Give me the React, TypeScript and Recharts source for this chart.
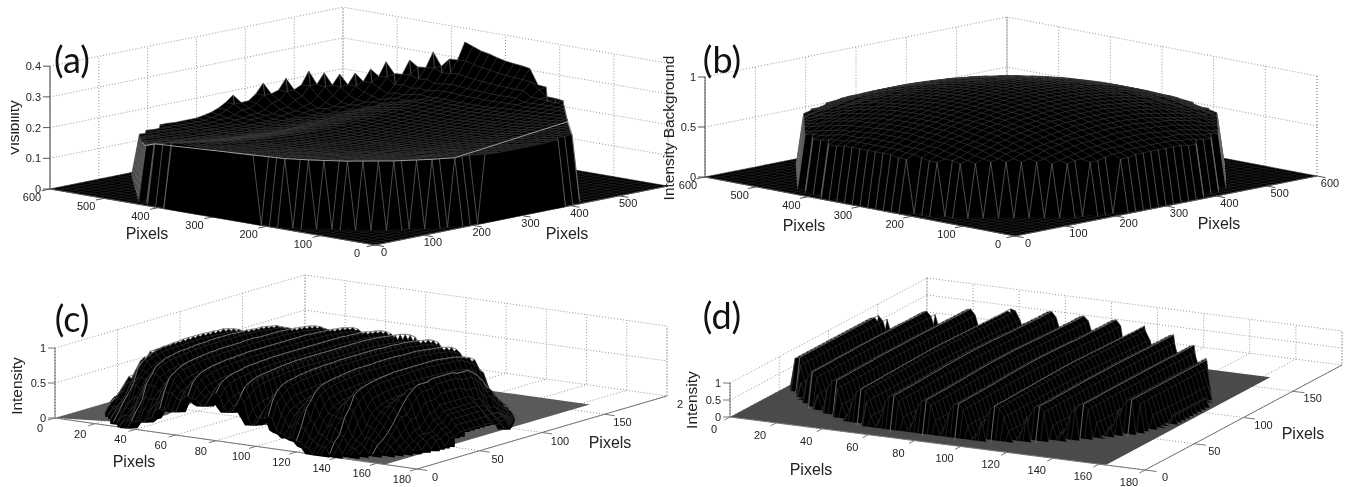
// Four 3D surface plots, painted back to front with Area (hidden parts) and Line (mesh)
import { ComposedChart, Area, Line, Scatter, XAxis, YAxis } from 'recharts';

const PAGE_W = 1351;
const PAGE_H = 487;

const pixelTicks = [0, 100, 200, 300, 400, 500, 600];
const fringeTicksX = [0, 20, 40, 60, 80, 100, 120, 140, 160, 180];
const fringeTicksY = [0, 50, 100, 150];
const visibilityTicks = [0, 0.1, 0.2, 0.3, 0.4];
const intensityTicks = [0, 0.5, 1];

// (a) visibility against distance from the centre, one value per half mesh cell
const visibilityProfile = [
  0.17, 0.17, 0.17, 0.17, 0.171, 0.171, 0.171, 0.172, 0.172, 0.173, 0.173, 0.174, 0.175, 0.176,
  0.177, 0.178, 0.179, 0.18, 0.181, 0.182, 0.183, 0.185, 0.187, 0.188, 0.19, 0.191, 0.193, 0.195,
  0.197, 0.199, 0.2, 0.202, 0.204, 0.206, 0.208, 0.21, 0.212, 0.214, 0.216, 0.218, 0.22, 0.222,
];
// (a) how far the far-left side sits under that profile, per mesh cell towards the 600 corner
const backLeftSag = [
  0, 0, 0, 0, 0, 0.004, 0.01, 0.017, 0.025, 0.034, 0.044, 0.052, 0.059, 0.065, 0.07, 0.074, 0.077,
  0.08, 0.082, 0.084, 0.085,
];
// (a) spikes on the far rim: mesh offset from the centre and height
const rimPeakU = [20, 19, 18, 17, 16, 15, 14, 13, 12, 10, 8, 5, 4, 3, 2, 1, 0, -1, -2, -3, -4, -5, -6, -7, -9];
const rimPeakV = [5, 8, 10, 12, 13, 14, 15, 16, 17, 18, 19, 20, 20, 20, 20, 20, 20, 20, 20, 20, 20, 20, 19, 19, 18];
const rimPeakZ = [
  0.186, 0.215, 0.226, 0.244, 0.238, 0.234, 0.237, 0.25, 0.273, 0.283, 0.314, 0.355, 0.345, 0.335,
  0.33, 0.322, 0.316, 0.312, 0.31, 0.305, 0.256, 0.254, 0.232, 0.231, 0.223,
];
const peakShoulder = [1, 0.62, 0.36, 0.18, 0.08];

// (b) background intensity against distance from the centre, one value per half mesh cell
const backgroundProfile = [
  0.89, 0.89, 0.889, 0.888, 0.886, 0.884, 0.881, 0.878, 0.875, 0.871, 0.866, 0.861, 0.856, 0.85,
  0.843, 0.837, 0.829, 0.821, 0.813, 0.804, 0.795, 0.785, 0.775, 0.764, 0.753, 0.742, 0.729, 0.717,
  0.704, 0.69, 0.676, 0.662, 0.647, 0.631, 0.615, 0.599, 0.582, 0.565, 0.547, 0.529,
];

// (c) envelope per 2 pixels of radius, and the fringe read across x per 2 pixels
const envelopeC = [
  0.96, 0.96, 0.96, 0.96, 0.96, 0.96, 0.96, 0.96, 0.96, 0.96, 0.96, 0.96, 0.96, 0.96, 0.96, 0.96,
  0.95, 0.95, 0.95, 0.95, 0.94, 0.94, 0.94, 0.93, 0.93, 0.92, 0.91, 0.91, 0.9, 0.89, 0.88, 0.87,
  0.85, 0.83, 0.8, 0.75, 0.68, 0.58, 0.46, 0.34, 0.24, 0.16, 0.11,
];
const fringeC = [
  0.82, 0.72, 0.73, 0.83, 0.94, 1, 0.95, 0.83, 0.72, 0.71, 0.82, 0.93, 1, 0.94, 0.84, 0.73, 0.72,
  0.81, 0.94, 1, 0.96, 0.84, 0.72, 0.7, 0.8, 0.93, 1, 0.95, 0.83, 0.73, 0.71, 0.82, 0.94, 1, 0.94,
  0.82, 0.72, 0.68, 0.8, 0.94, 1, 0.92, 0.72, 0.62, 0.66, 0.82, 1, 0.9, 0.66, 0.5, 0.56, 0.72, 0.9,
  1, 0.94, 0.8, 0.7, 0.66, 0.74, 0.88, 1, 0.94, 0.82, 0.72, 0.7, 0.8, 0.94, 1, 0.95, 0.83, 0.72,
  0.72, 0.83, 0.94, 1, 0.95, 0.84, 0.73, 0.72, 0.82, 0.93, 1, 0.95,
];
const ridgesC = [5, 12, 19, 26, 33, 40, 46, 53, 60, 67, 74];
// (c) the grey tail of the surface: run and row of its outline, the front part lies behind the bumps
const floorOutlineC = [
  [0, 0], [33, 12], [34, 35], [24, 90], [37, 91], [76, 40], [83, 45], [98, 29], [118, 17], [139, 1], [164, 0],
  [164, 164], [0, 164],
];

// (d) same reading for the cropped, deeper fringes
const envelopeD = [
  1.1, 1.1, 1.1, 1.1, 1.1, 1.1, 1.1, 1.1, 1.1, 1.09, 1.09, 1.09, 1.09, 1.08, 1.08, 1.08, 1.07, 1.07,
  1.07, 1.06, 1.06, 1.06, 1.05, 1.05, 1.05, 1.05, 1.04, 1.04, 1.04, 1.04, 1.03, 1.03, 1.03, 1.03, 1.03,
  1.02, 1.02, 1.02, 1.02, 1.02, 1.02, 1.02,
];
const fringeD = [
  0.05, 0.28, 0.72, 0.96, 1, 0.85, 0.42, 0.06, 0.27, 0.7, 0.95, 1, 0.86, 0.44, 0.05, 0.3, 0.74, 0.96,
  1, 0.84, 0.4, 0.04, 0.18, 0.55, 0.88, 1, 0.96, 0.72, 0.32, 0.05, 0.29, 0.72, 0.97, 1, 0.85, 0.41,
  0.06, 0.28, 0.7, 0.95, 0.99, 0.86, 0.43, 0.05, 0.3, 0.73, 0.96, 1, 0.84, 0.4, 0.04, 0.19, 0.56, 0.88,
  1, 0.95, 0.7, 0.31, 0.05, 0.28, 0.71, 0.96, 1, 0.85, 0.42, 0.06, 0.29, 0.72, 0.95, 1, 0.86, 0.43,
  0.05, 0.3, 0.74, 0.97, 1, 0.84, 0.4, 0.05, 0.28, 0.72, 0.96,
];
const ridgesD = [4, 11, 18, 25, 33, 40, 47, 54, 62, 69, 76];

type Pt = { x: number; y: number | null };
type Label = { x: number; y: number; text: string; kind: string };

type View = {
  origin: number[];
  runEnd: number[];
  rowEnd: number[];
  runMax: number;
  rowMax: number;
  zPx: number;
  zTop: number;
  zTicks: number[];
  zLabels: string[];
  zAxis: number[];
  sideRun: number;
  rowAxisRun: number;
  runTicks: number[];
  rowTicks: number[];
  runOffset: number[];
  rowOffset: number[];
  surfRuns: number;
  surfRows: number;
  runStep: number;
  rowStep: number;
  floorOutline: number[][];
  floorFill: string;
  floorMesh: string;
  floorMeshEvery: number;
  mesh: string;
  meshWidth: number;
  crossEvery: number;
  walls: boolean;
  stripFill: boolean;
  ridges: number[];
  ridgeStroke: string;
  rimStroke?: string;
  grid: string;
  axis: string;
  height: (row: number, run: number) => number;
  extras: Label[];
};

const heightA = (row: number, run: number) => {
  const du = row - 20;
  const dv = run - 20;
  let z = visibilityProfile[Math.round(Math.hypot(du, dv) * 2)] ?? 0;
  if (du - dv > 28 || dv - du > 27) z = 0;
  if (z > 0 && du > 0) z -= backLeftSag[du];
  const base = z;
  rimPeakU.forEach((pu, k) => {
    const pv = rimPeakV[k];
    const reach = peakShoulder[Math.round(Math.hypot(du - pu, dv - pv))] ?? 0;
    if (du === pu && dv === pv) z = rimPeakZ[k];
    else if (base > 0 && reach > 0) z = Math.max(z, base + (rimPeakZ[k] - base) * reach);
  });
  return z;
};
const heightB = (row: number, run: number) =>
  backgroundProfile[Math.round(Math.hypot(row - 20, run - 20) * 2)] ?? 0;
const heightC = (row: number, run: number) =>
  (envelopeC[Math.round(Math.hypot(row * 4 - 72, run * 2 - 82) / 2)] ?? 0) * fringeC[run];
const heightD = (row: number, run: number) =>
  (envelopeD[Math.round(Math.hypot(row * 4 - 91, run * 2 - 79) / 2)] ?? 0) * fringeD[run];

const viewA: View = {
  origin: [375, 245], runEnd: [668, 186], rowEnd: [50, 189], runMax: 600, rowMax: 600,
  zPx: 307, zTop: 0.4, zTicks: visibilityTicks, zLabels: ['0', '0.1', '0.2', '0.3', '0.4'],
  zAxis: [0, 600], sideRun: 600, rowAxisRun: 0,
  runTicks: pixelTicks.slice(0, 6), rowTicks: pixelTicks, runOffset: [9, 7], rowOffset: [-18, 8],
  surfRuns: 41, surfRows: 41, runStep: 15, rowStep: 15,
  floorOutline: [[0, 0], [600, 0], [600, 600], [0, 600]],
  floorFill: '#000', floorMesh: '#2a2a2a', floorMeshEvery: 1, mesh: '#3e3e3e', meshWidth: 0.6, crossEvery: 1,
  walls: true, stripFill: false, ridges: [], ridgeStroke: '#6c6c6c', rimStroke: '#a8a8a8', grid: '#8a8a8a', axis: '#555',
  height: heightA,
  extras: [
    { x: 72, y: 59, text: '(a)', kind: 'panel' },
    { x: 147, y: 233, text: 'Pixels', kind: 'title' },
    { x: 567, y: 233, text: 'Pixels', kind: 'title' },
    { x: 19, y: 128, text: 'Visibility', kind: 'clipped' },
  ],
};

const viewB: View = {
  origin: [1015, 236], runEnd: [1317, 176], rowEnd: [705, 177], runMax: 600, rowMax: 600,
  zPx: 100, zTop: 1, zTicks: intensityTicks, zLabels: ['0', '0.5', '1'],
  zAxis: [0, 600], sideRun: 600, rowAxisRun: 0,
  runTicks: pixelTicks, rowTicks: pixelTicks, runOffset: [13, 7], rowOffset: [-17, 8],
  surfRuns: 41, surfRows: 41, runStep: 15, rowStep: 15,
  floorOutline: [[0, 0], [600, 0], [600, 600], [0, 600]],
  floorFill: '#000', floorMesh: '#2a2a2a', floorMeshEvery: 1, mesh: '#3e3e3e', meshWidth: 0.6, crossEvery: 1,
  walls: true, stripFill: false, ridges: [], ridgeStroke: '#6c6c6c', grid: '#8a8a8a', axis: '#555',
  height: heightB,
  extras: [
    { x: 722, y: 59, text: '(b)', kind: 'panel' },
    { x: 804, y: 225, text: 'Pixels', kind: 'title' },
    { x: 1219, y: 223, text: 'Pixels', kind: 'title' },
    { x: 668, y: 128, text: 'Intensity Background', kind: 'vertical' },
  ],
};

const viewC: View = {
  origin: [55, 418], runEnd: [417, 469], rowEnd: [305, 345], runMax: 180, rowMax: 200,
  zPx: 70, zTop: 1, zTicks: intensityTicks, zLabels: ['0', '0.5', '1'],
  zAxis: [0, 0], sideRun: 0, rowAxisRun: 180,
  runTicks: fringeTicksX, rowTicks: fringeTicksY, runOffset: [-15, 10], rowOffset: [18, 8],
  surfRuns: 83, surfRows: 42, runStep: 2, rowStep: 4,
  floorOutline: floorOutlineC,
  floorFill: '#5a5a5a', floorMesh: '#777', floorMeshEvery: 0, mesh: '#3c3c3c', meshWidth: 0.5, crossEvery: 1,
  walls: false, stripFill: true, ridges: ridgesC, ridgeStroke: '#8c8c8c', grid: '#8a8a8a', axis: '#777',
  height: heightC,
  extras: [
    { x: 72, y: 318, text: '(c)', kind: 'panel' },
    { x: 134, y: 461, text: 'Pixels', kind: 'title' },
    { x: 610, y: 442, text: 'Pixels', kind: 'title' },
    { x: 16, y: 386, text: 'Intensity', kind: 'vertical' },
    { x: 680, y: 404, text: '2', kind: 'tick' },
  ],
};

const viewD: View = {
  origin: [730, 417], runEnd: [1145, 470], rowEnd: [927, 312], runMax: 180, rowMax: 200,
  zPx: 34, zTop: 1, zTicks: intensityTicks, zLabels: ['0', '0.5', '1'],
  zAxis: [0, 0], sideRun: 0, rowAxisRun: 180,
  runTicks: fringeTicksX, rowTicks: fringeTicksY, runOffset: [-16, 12], rowOffset: [20, 7],
  surfRuns: 83, surfRows: 44, runStep: 2, rowStep: 4,
  floorOutline: [[0, 0], [163, 0], [163, 167], [0, 167]],
  floorFill: '#4a4a4a', floorMesh: '#5a5a5a', floorMeshEvery: 0, mesh: '#3c3c3c', meshWidth: 0.5, crossEvery: 1,
  walls: false, stripFill: false, ridges: ridgesD, ridgeStroke: '#7a7a7a', grid: '#8a8a8a', axis: '#777',
  height: heightD,
  extras: [
    { x: 722, y: 315, text: '(d)', kind: 'panel' },
    { x: 811, y: 469, text: 'Pixels', kind: 'title' },
    { x: 1303, y: 433, text: 'Pixels', kind: 'title' },
    { x: 691, y: 400, text: 'Intensity', kind: 'vertical' },
  ],
};

const project = (v: View, run: number, row: number, z = 0) => ({
  x: v.origin[0] + (run / v.runMax) * (v.runEnd[0] - v.origin[0]) + (row / v.rowMax) * (v.rowEnd[0] - v.origin[0]),
  y: v.origin[1] + (run / v.runMax) * (v.runEnd[1] - v.origin[1]) + (row / v.rowMax) * (v.rowEnd[1] - v.origin[1]) - z * v.zPx,
});

function segmentsToLine(segments: Pt[][]) {
  const out: Pt[] = [];
  segments.forEach((s) => {
    out.push(...s, { x: s[s.length - 1].x, y: null });
  });
  return out;
}

function gridLines(v: View) {
  const segs: Pt[][] = [];
  v.zTicks.forEach((z) => {
    if (z === 0) return;
    segs.push([project(v, 0, v.rowMax, z), project(v, v.runMax, v.rowMax, z)]);
    segs.push([project(v, v.sideRun, 0, z), project(v, v.sideRun, v.rowMax, z)]);
  });
  v.runTicks.forEach((t) => {
    segs.push([project(v, t, 0), project(v, t, v.rowMax), project(v, t, v.rowMax, v.zTop)]);
  });
  v.rowTicks.forEach((t) => {
    segs.push([project(v, 0, t), project(v, v.runMax, t)]);
    segs.push([project(v, v.sideRun, t), project(v, v.sideRun, t, v.zTop)]);
  });
  segs.push([project(v, 0, v.rowMax), project(v, v.runMax, v.rowMax), project(v, v.runMax, v.rowMax, v.zTop)]);
  segs.push([project(v, 0, v.rowMax, v.zTop), project(v, 0, v.rowMax)]);
  segs.push([project(v, v.sideRun, 0, v.zTop), project(v, v.sideRun, 0)]);
  return segmentsToLine(segs);
}

function axisLines(v: View) {
  const segs: Pt[][] = [];
  const farSide = v.rowAxisRun === 0 ? 1 : -1;
  segs.push([project(v, 0, 0), project(v, v.runMax, 0)]);
  segs.push([project(v, v.rowAxisRun, 0), project(v, v.rowAxisRun, v.rowMax)]);
  segs.push([project(v, v.zAxis[0], v.zAxis[1]), project(v, v.zAxis[0], v.zAxis[1], v.zTop)]);
  v.runTicks.forEach((t) => segs.push([project(v, t, 0), project(v, t, -v.rowMax * 0.028)]));
  v.rowTicks.forEach((t) =>
    segs.push([project(v, v.rowAxisRun, t), project(v, v.rowAxisRun - farSide * v.runMax * 0.028, t)]),
  );
  v.zTicks.forEach((z) => {
    const p = project(v, v.zAxis[0], v.zAxis[1], z);
    segs.push([p, { x: p.x - 7, y: p.y }]);
  });
  return segmentsToLine(segs);
}

function floorBand(v: View) {
  const c = v.floorOutline.map((p) => project(v, p[0], p[1]));
  const xs = c.map((p) => p.x).sort((a, b) => a - b);
  return xs.map((x) => {
    const ys: number[] = [];
    c.forEach((p, k) => {
      const q = c[(k + 1) % c.length];
      if (Math.min(p.x, q.x) <= x && x <= Math.max(p.x, q.x) && p.x !== q.x) {
        ys.push(p.y + ((x - p.x) / (q.x - p.x)) * (q.y - p.y));
      }
    });
    return { x, band: [Math.max(...ys), Math.min(...ys)] };
  });
}

function floorMeshLines(v: View) {
  if (!v.floorMeshEvery) return [];
  const segs: Pt[][] = [];
  for (let r = 0; r <= v.rowMax; r += v.rowStep) segs.push([project(v, 0, r), project(v, v.runMax, r)]);
  for (let t = 0; t <= v.runMax; t += v.runStep) segs.push([project(v, t, 0), project(v, t, v.rowMax)]);
  return segmentsToLine(segs);
}

function buildRows(v: View) {
  const field: number[][] = [];
  for (let i = 0; i < v.surfRows; i++) {
    field.push([]);
    for (let j = 0; j < v.surfRuns; j++) field[i].push(v.height(i, j));
  }
  const at = (i: number, j: number) => project(v, j * v.runStep, i * v.rowStep, field[i][j]);
  const floorAt = (i: number, j: number) => project(v, j * v.runStep, i * v.rowStep);
  const rows: { band: object[]; line: Pt[]; ridge: Pt[] }[] = [];
  for (let i = v.surfRows - 1; i >= 0; i--) {
    const band: object[] = [];
    const line: Pt[] = [];
    const ridge: Pt[] = [];
    const h = field[i];
    const kept = (j: number) => h[j] > 0 || h[j - 1] > 0 || h[j + 1] > 0;
    for (let j = 0; j < v.surfRuns; j++) {
      if (!kept(j)) {
        if (band.length) {
          band.push({ x: at(i, j).x, band: [0, null] });
          line.push({ x: at(i, j).x, y: null });
        }
        continue;
      }
      const p = at(i, j);
      let low = floorAt(i, j).y;
      if (v.stripFill) {
        low = p.y;
        for (let k = 1; k <= 2 && i - k >= 0; k++) {
          for (let m = 0; m <= 3 && j + m < v.surfRuns; m++) {
            low = Math.max(low, at(i - k, j + m).y);
          }
        }
      }
      band.push({ x: p.x, band: [low, p.y] });
      if (v.walls && kept(j + 1) && (h[j] === 0) !== (h[j + 1] === 0)) {
        ridge.push(p, at(i, j + 1), { x: p.x, y: null });
        line.push(p, { x: p.x, y: null });
      } else {
        line.push(p);
      }
    }
    if (i > 0) {
      line.push({ x: 0, y: null });
      for (let j = 0; j < v.surfRuns; j++) {
        const up = field[i][j];
        const down = field[i - 1][j];
        if (up <= 0 && down <= 0) continue;
        const a = at(i, j);
        const b = at(i - 1, j);
        // close the gap under the edge running towards the next row
        if (v.walls) {
          band.push(
            { x: a.x, band: [0, null] },
            { x: a.x, band: [floorAt(i, j).y, a.y] },
            { x: b.x, band: [floorAt(i - 1, j).y, b.y] },
          );
        }
        if (v.walls && (up === 0 || down === 0)) {
          ridge.push(a, b, { x: b.x, y: null });
        } else if (v.crossEvery && j % v.crossEvery === 0) {
          line.push(a, b, { x: b.x, y: null });
        }
        if (v.ridges.includes(j)) ridge.push(a, b, { x: b.x, y: null });
      }
    }
    rows.push({ band, line, ridge });
  }
  return rows;
}

// near rim of the surface, left to right on the page
function rimLine(v: View) {
  const out: { x: number; y: number }[] = [];
  for (let i = 1; i < v.surfRows - 1; i++) {
    for (let j = 1; j < v.surfRuns - 1; j++) {
      if (v.height(i, j) <= 0 || i + j > 40) continue;
      const zeros = [v.height(i - 1, j), v.height(i + 1, j), v.height(i, j - 1), v.height(i, j + 1)].filter((z) => z === 0);
      if (zeros.length >= 2) {
        out.push(project(v, j * v.runStep, i * v.rowStep, v.height(i, j)));
      }
    }
  }
  return out.sort((a, b) => a.x - b.x);
}

function buildLabels(v: View) {
  const out: Label[] = [];
  v.runTicks.forEach((t) => {
    const p = project(v, t, 0);
    out.push({ x: p.x + v.runOffset[0], y: p.y + v.runOffset[1], text: String(t), kind: 'tick' });
  });
  v.rowTicks.forEach((t) => {
    const p = project(v, v.rowAxisRun, t);
    out.push({ x: p.x + v.rowOffset[0], y: p.y + v.rowOffset[1], text: String(t), kind: 'tick' });
  });
  v.zTicks.forEach((z, k) => {
    const p = project(v, v.zAxis[0], v.zAxis[1], z);
    out.push({ x: p.x - 9, y: p.y, text: v.zLabels[k], kind: 'ztick' });
  });
  return [...out, ...v.extras];
}

function LabelShape(props: any) {
  const { cx, cy, payload } = props;
  const base = { fontFamily: '"Liberation Sans", Arial, sans-serif', fill: '#222' };
  if (payload.kind === 'panel') {
    return (
      <text x={cx} y={cy} textAnchor="middle" dominantBaseline="central" fontFamily="Lato" fontSize={36} fill="#111">
        {payload.text}
      </text>
    );
  }
  if (payload.kind === 'vertical' || payload.kind === 'clipped') {
    const clip = payload.kind === 'clipped';
    return (
      <g>
        {clip && (
          <defs>
            <clipPath id="visibility-crop">
              <rect x={11} y={cy - 40} width={20} height={80} />
            </clipPath>
          </defs>
        )}
        <g clipPath={clip ? 'url(#visibility-crop)' : undefined}>
          <text
            {...base}
            x={cx}
            y={cy}
            fontSize={15.5}
            textAnchor="middle"
            dominantBaseline={clip ? 'auto' : 'central'}
            transform={`rotate(-90 ${cx} ${cy})`}
          >
            {payload.text}
          </text>
        </g>
      </g>
    );
  }
  const size = payload.kind === 'title' ? 16 : 11;
  return (
    <text
      {...base}
      x={cx}
      y={cy}
      fontSize={size}
      textAnchor={payload.kind === 'ztick' ? 'end' : 'middle'}
      dominantBaseline="central"
    >
      {payload.text}
    </text>
  );
}

function SurfacePanel({ view }: { view: View }) {
  const rows = buildRows(view);
  const meshLines = floorMeshLines(view);
  const common = { isAnimationActive: false, dot: false, activeDot: false, legendType: 'none' as const, type: 'linear' as const };
  return (
    <div style={{ position: 'absolute', left: 0, top: 0 }}>
      <ComposedChart width={PAGE_W} height={PAGE_H} margin={{ top: 0, right: 0, bottom: 0, left: 0 }}>
        <XAxis hide type="number" dataKey="x" domain={[0, PAGE_W]} allowDataOverflow />
        <YAxis hide type="number" dataKey="y" domain={[0, PAGE_H]} reversed allowDataOverflow width={0} />
        <Line {...common} data={gridLines(view)} dataKey="y" stroke={view.grid} strokeWidth={0.9} strokeDasharray="1 2" zIndex={1} />
        <Area {...common} data={floorBand(view)} dataKey="band" stroke="none" fill={view.floorFill} fillOpacity={1} zIndex={2} />
        <Line {...common} data={meshLines} dataKey="y" stroke={view.floorMesh} strokeWidth={0.5} zIndex={3} />
        <Line {...common} data={axisLines(view)} dataKey="y" stroke={view.axis} strokeWidth={1} zIndex={4} />
        {rows.map((r, k) => [
          <Area key={`a${k}`} {...common} data={r.band} dataKey="band" stroke="none" fill="#000" fillOpacity={1} zIndex={10 + k * 3} />,
          <Line key={`l${k}`} {...common} data={r.line} dataKey="y" stroke={view.mesh} strokeWidth={view.meshWidth} zIndex={11 + k * 3} />,
          <Line key={`r${k}`} {...common} data={r.ridge} dataKey="y" stroke={view.ridgeStroke} strokeWidth={0.7} zIndex={12 + k * 3} />,
        ])}
        {view.rimStroke && (
          <Line {...common} data={rimLine(view)} dataKey="y" stroke={view.rimStroke} strokeWidth={0.9} zIndex={1500} />
        )}
        <Scatter data={buildLabels(view)} shape={LabelShape} isAnimationActive={false} legendType="none" zIndex={2000} />
      </ComposedChart>
    </div>
  );
}

export default function App() {
  return (
    <div style={{ position: 'absolute', left: 0, top: 0, width: PAGE_W, height: PAGE_H, background: '#fff', overflow: 'hidden', filter: 'blur(0.35px)' }}>
      <SurfacePanel view={viewA} />
      <SurfacePanel view={viewB} />
      <SurfacePanel view={viewC} />
      <SurfacePanel view={viewD} />
    </div>
  );
}
